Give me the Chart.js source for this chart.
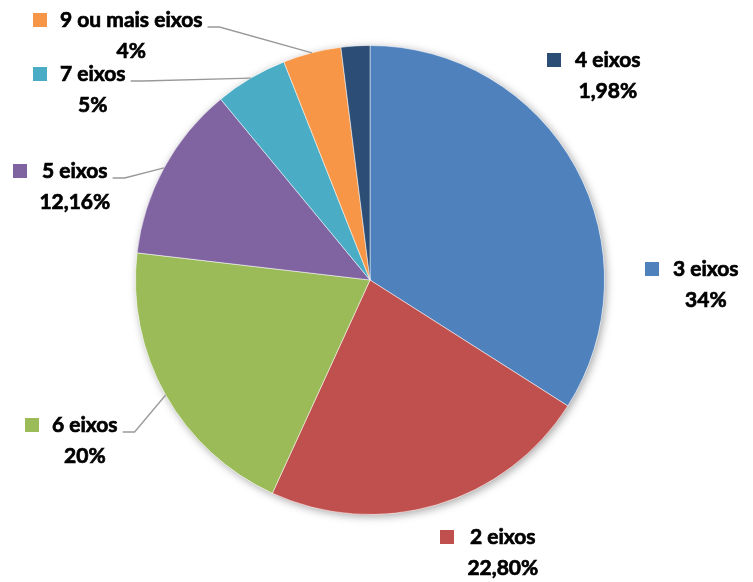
<!DOCTYPE html>
<html>
<head>
<meta charset="utf-8">
<script src="https://cdn.jsdelivr.net/npm/chart.js@4"></script>
<style>
  html, body { margin: 0; padding: 0; background: #fff; }
  canvas { display: block; }
</style>
</head>
<body>
<canvas id="chart" width="753" height="582"></canvas>
<script>
// dados
const categories = ["3 eixos", "2 eixos", "6 eixos", "5 eixos", "7 eixos", "9 ou mais eixos", "4 eixos"];
const shares = [34, 22.8, 20, 12.16, 5, 4, 1.98];
const shareLabels = ["34%", "22,80%", "20%", "12,16%", "5%", "4%", "1,98%"];

const colors = ["#4F81BD", "#C0504D", "#9BBB59", "#8064A2", "#4BACC6", "#F79646", "#2C4D75"];

// onde fica cada rotulo: x do quadrado, x do texto, y da 1a linha, com linha guia ou nao
const labelSpots = [
    { sq: 645, tx: 673, y: 269, leader: false },
    { sq: 440, tx: 470, y: 537, leader: false },
    { sq: 25, tx: 52, y: 425, leader: true },
    { sq: 13, tx: 42, y: 171, leader: true },
    { sq: 33, tx: 60, y: 74, leader: true },
    { sq: 33, tx: 60, y: 20, leader: true },
    { sq: 547, tx: 575, y: 60, leader: false },
];

const FONT = "bold 21px Lato, 'Open Sans', sans-serif";

const pieShadow = {
    id: "pieShadow",
    beforeDatasetsDraw(chart) {
        const arc = chart.getDatasetMeta(0).data[0];
        if (!arc) return;
        const ctx = chart.ctx;
        ctx.save();
        ctx.shadowColor = "rgba(0,0,0,0.35)";
        ctx.shadowBlur = 8;
        ctx.shadowOffsetX = 2;
        ctx.shadowOffsetY = 2;
        ctx.fillStyle = "#fff";
        ctx.beginPath();
        ctx.arc(arc.x, arc.y, arc.outerRadius, 0, Math.PI * 2);
        ctx.fill();
        ctx.restore();
    },
};

// texto um pouco mais grosso, como o Calibri negrito do original
function boldText(ctx, txt, x, y) {
    ctx.fillText(txt, x, y);
    ctx.strokeText(txt, x, y);
}

const outsideLabels = {
    id: "outsideLabels",
    afterDatasetsDraw(chart) {
        const ctx = chart.ctx;
        const meta = chart.getDatasetMeta(0);
        ctx.save();
        ctx.font = FONT;
        ctx.textBaseline = "middle";
        meta.data.forEach((arc, i) => {
            const spot = labelSpots[i];
            const name = chart.data.labels[i];
            const w = ctx.measureText(name).width;

            // quadrado da legenda
            ctx.fillStyle = colors[i];
            ctx.fillRect(spot.sq, spot.y - 7, 14, 14);

            ctx.fillStyle = "#000";
            ctx.strokeStyle = "#000";
            ctx.lineWidth = 0.7;
            ctx.textAlign = "left";
            boldText(ctx, name, spot.tx, spot.y);
            ctx.textAlign = "center";
            boldText(ctx, shareLabels[i], spot.tx + w / 2, spot.y + 31);

            if (spot.leader) {
                const mid = (arc.startAngle + arc.endAngle) / 2;
                const ex = arc.x + arc.outerRadius * Math.cos(mid);
                const ey = arc.y + arc.outerRadius * Math.sin(mid);
                const sx = spot.tx + w + 5;
                const sy = spot.y + 7;
                ctx.strokeStyle = "#999999";
                ctx.lineWidth = 1.3;
                ctx.beginPath();
                ctx.moveTo(sx, sy);
                ctx.lineTo(sx + 12, sy);
                ctx.lineTo(ex, ey);
                ctx.stroke();
            }
        });
        ctx.restore();
    },
};

new Chart(document.getElementById("chart"), {
    type: "pie",
    data: {
        labels: categories,
        datasets: [
            {
                data: shares,
                backgroundColor: colors,
                borderColor: "rgba(255,255,255,0.5)",
                borderWidth: 1,
            },
        ],
    },
    options: {
        responsive: false,
        animation: false,
        layout: {
            padding: { left: 135, right: 148, top: 45, bottom: 67 },
        },
        plugins: {
            legend: { display: false },
            tooltip: { enabled: false },
        },
    },
    plugins: [pieShadow, outsideLabels],
});
</script>
</body>
</html>
